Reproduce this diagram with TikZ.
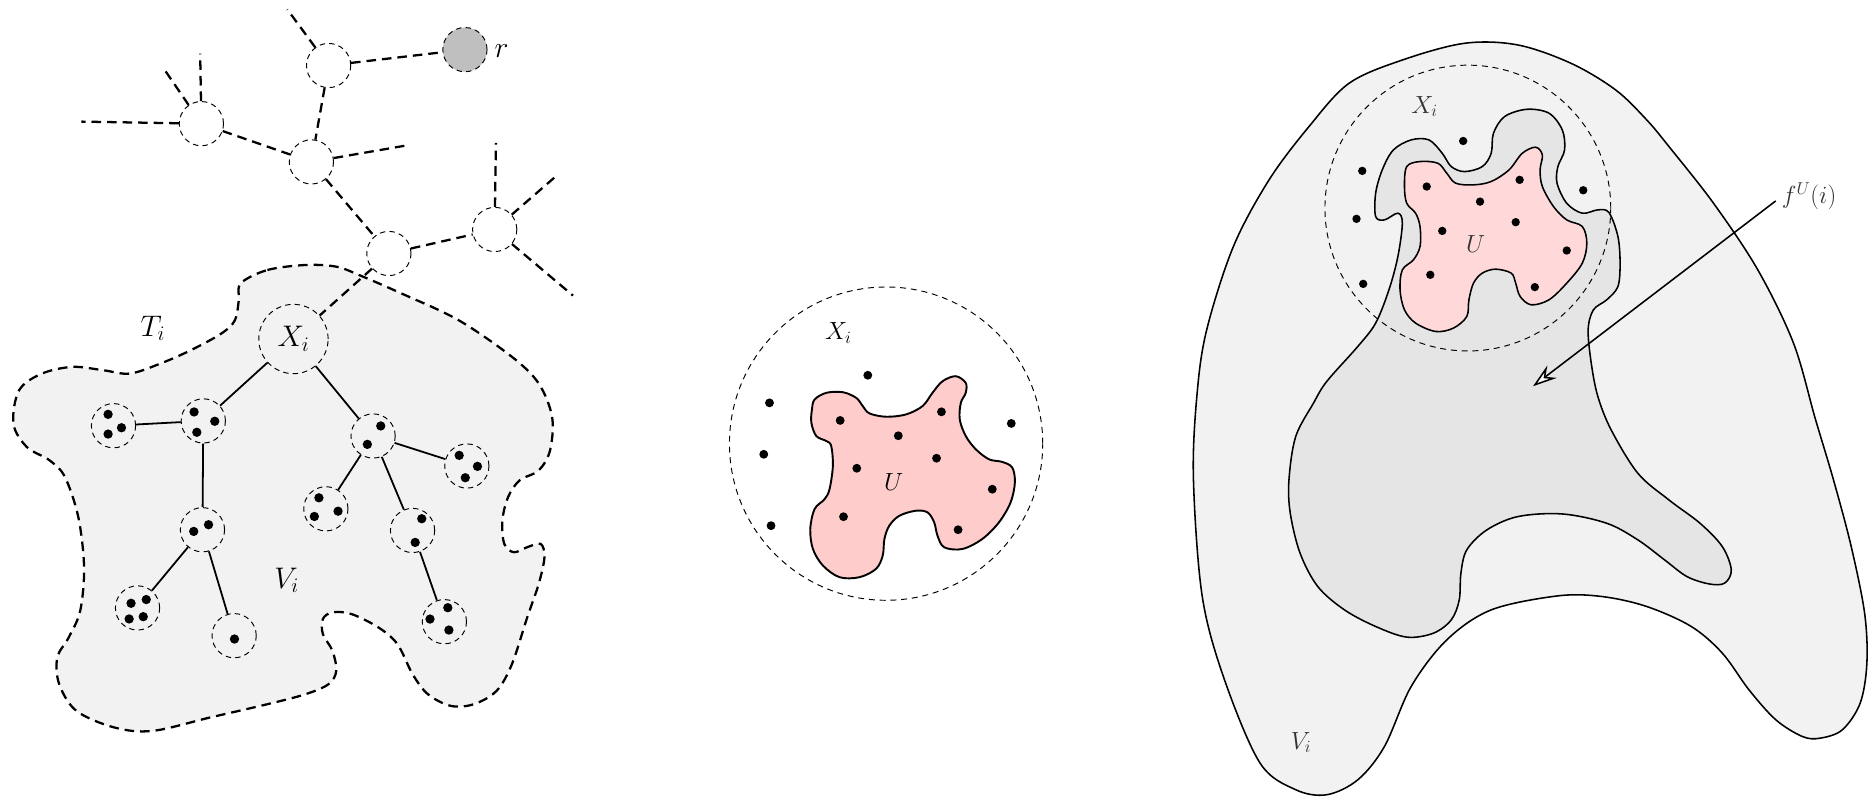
\documentclass[tikz,border=0pt]{standalone}
\usetikzlibrary{arrows.meta}
\begin{document}
\begin{tikzpicture}[x=1pt,y=-1pt,
  tn/.style={circle, draw, line width=0.8pt, dash pattern=on 4.5pt off 3.5pt, minimum size=37pt, inner sep=0pt},
  tedge/.style={line width=1.9pt, dash pattern=on 8pt off 5pt},
  sedge/.style={line width=1.5pt},
  blobline/.style={line width=1.9pt, dash pattern=on 8pt off 5pt, fill=gray!10},
  thinc/.style={line width=0.8pt, dash pattern=on 5pt off 4pt},
  outl/.style={line width=1.3pt},
  biglbl/.style={font=\fontsize{23}{27}\selectfont, inner sep=0pt},
  midlbl/.style={font=\fontsize{20}{24}\selectfont, inner sep=0pt},
  rlbl/.style={font=\fontsize{20.74}{24}\selectfont, inner sep=0pt, text=black!80},
]
\useasboundingbox (0,0) rectangle (1568,666);

% ---------------- left: blob T_i ----------------
\draw[blobline] plot[smooth cycle, tension=0.55] coordinates {
(201.3,236.9) (223.6,225.8) (255.6,221.6) (281.2,223) (300.3,230) (335.5,245.3)
(383.4,267.7) (428.1,298.4) (450.5,320.7) (461.7,348.7) (460,376.6) (450.5,393.4)
(434.5,401.7) (424.9,415.7) (420.1,435.3) (421.7,454.8) (429.7,461.8) (440.9,457.6)
(452.1,454.8) (455.3,466) (450.5,488.3) (440.9,516.3) (428.1,555.4) (415.3,577.7)
(396.2,588.9) (377,590.3) (357.8,580.5) (345,563.7) (332.3,538.6) (316.3,524.6)
(293.9,513.5) (278,512.1) (270,517.7) (270,530.2) (278,544.2) (281.2,561)
(274.8,572.1) (255.6,580.5) (223.6,588.9) (175.7,600) (127.8,611.2) (95.8,608.4)
(63.9,594.5) (49.5,572.1) (47.9,549.8) (57.5,533) (67.1,510.7) (70.3,474.4)
(65.5,432.5) (54.3,398.9) (41.5,385) (22.4,373.8) (11.2,354.3) (16,326.3)
(35.1,312.4) (60.7,306.8) (86.3,309.6) (108.6,312.4) (134.2,304) (159.7,292.8)
(185.3,278.8) (196.5,267.7) (199.7,250.9)};

% upper tree nodes
\node[tn] (A) at (274.8,54.8) {};
\node[tn, fill=gray!50] (R) at (388.8,41.5) {};
\node[tn] (B) at (168.4,103.4) {};
\node[tn] (C) at (260.4,135.4) {};
\node[tn] (D) at (325.2,212) {};
\node[tn] (E) at (413.7,191.9) {};
\node[tn, minimum size=58pt, biglbl] (X) at (245.4,283.5) {$X_i$};
\node[biglbl, font=\fontsize{24}{28}\selectfont] (rl) at (419.5,43) {$r$};

\coordinate (Aup) at (240.3,7.9);
\coordinate (Bl) at (68,101.7);
\coordinate (Bu) at (167.4,44.9);
\coordinate (Bul) at (136.7,57);
\coordinate (Cr) at (341.9,121.3);
\coordinate (Eu) at (414.7,119.4);
\coordinate (Eur) at (466.5,146);
\coordinate (Edr) at (479.2,247.2);

\draw[tedge] (A) -- (R);
\draw[tedge] (A) -- (Aup);
\draw[tedge] (A) -- (C);
\draw[tedge] (B) -- (C);
\draw[tedge] (B) -- (Bl);
\draw[tedge] (B) -- (Bu);
\draw[tedge] (B) -- (Bul);
\draw[tedge] (C) -- (Cr);
\draw[tedge] (C) -- (D);
\draw[tedge] (D) -- (E);
\draw[tedge] (E) -- (Eu);
\draw[tedge] (E) -- (Eur);
\draw[tedge] (E) -- (Edr);
\draw[tedge] (D) -- (X);

% lower tree nodes
\node[tn] (n1) at (94.9,356) {};
\node[tn] (n2) at (170,352) {};
\node[tn] (n3) at (312,364.6) {};
\node[tn] (n4) at (390.4,389.7) {};
\node[tn] (n5) at (272.5,425.5) {};
\node[tn] (n6) at (169.3,443) {};
\node[tn] (n7) at (345,443.6) {};
\node[tn] (n8) at (115,508.4) {};
\node[tn] (n9) at (195.8,531.6) {};
\node[tn] (n10) at (371.6,519.9) {};

\draw[sedge] (X) -- (n2);
\draw[sedge] (X) -- (n3);
\draw[sedge] (n2) -- (n1);
\draw[sedge] (n2) -- (n6);
\draw[sedge] (n3) -- (n4);
\draw[sedge] (n3) -- (n5);
\draw[sedge] (n3) -- (n7);
\draw[sedge] (n6) -- (n8);
\draw[sedge] (n6) -- (n9);
\draw[sedge] (n7) -- (n10);

\def\dr{3.9pt}
\fill (n1) ++(-4.5,-9.5) circle[radius=\dr];
\fill (n1) ++(6.7,1.7) circle[radius=\dr];
\fill (n1) ++(-4.5,7) circle[radius=\dr];
\fill (n2) ++(-7.7,-7.5) circle[radius=\dr];
\fill (n2) ++(9.6,0.3) circle[radius=\dr];
\fill (n2) ++(-5.4,9.5) circle[radius=\dr];
\fill (n3) ++(6.4,-8.4) circle[radius=\dr];
\fill (n3) ++(-4.8,7) circle[radius=\dr];
\fill (n4) ++(-6.4,-8.9) circle[radius=\dr];
\fill (n4) ++(8.9,0.3) circle[radius=\dr];
\fill (n4) ++(-1.3,9.8) circle[radius=\dr];
\fill (n5) ++(-5.8,-9.2) circle[radius=\dr];
\fill (n5) ++(-9.6,6.4) circle[radius=\dr];
\fill (n5) ++(10.2,2) circle[radius=\dr];
\fill (n6) ++(5.1,-4.2) circle[radius=\dr];
\fill (n6) ++(-7.3,1.4) circle[radius=\dr];
\fill (n7) ++(7.7,-9.8) circle[radius=\dr];
\fill (n7) ++(2.2,10) circle[radius=\dr];
\fill (n8) ++(-5.4,-3.9) circle[radius=\dr];
\fill (n8) ++(7.3,-7) circle[radius=\dr];
\fill (n8) ++(-7,9.2) circle[radius=\dr];
\fill (n8) ++(4.8,7.3) circle[radius=\dr];
\fill (n9) ++(0.3,2.8) circle[radius=\dr];
\fill (n10) ++(2.9,-11.7) circle[radius=\dr];
\fill (n10) ++(-12,-2.2) circle[radius=\dr];
\fill (n10) ++(3.8,7) circle[radius=\dr];

\node[biglbl] (Tl) at (127.8,274.6) {$T_i$};
\node[biglbl] (Vl) at (239.6,485.5) {$V_i$};

% ---------------- middle ----------------
\draw[thinc] (741,371) circle[radius=131pt];
\draw[line width=1.6pt, fill=red!20] plot[smooth cycle, tension=0.55] coordinates {
(681.2,334.1) (691,328.5) (704.9,328) (716,332.7) (721.5,339.6) (727.1,345.7)
(741,348.5) (757.6,346.6) (771.5,339.6) (779.8,328.5) (788.2,318.8) (799.3,314.6)
(807.6,320.2) (807.6,328.5) (803.5,336.9) (802.6,350.7) (807.6,364.6) (816,375.7)
(827.1,384.1) (838.2,386.3) (846.5,391) (848.7,403.5) (845.1,420.2) (835.4,436.8)
(821.5,450.7) (804.8,459.1) (789.6,457.7) (784,448) (781.2,436.8) (775.7,428.5)
(765.9,427.1) (752.1,431.3) (743.7,439.6) (739.6,450.7) (738.2,464.6) (732.6,475.7)
(718.7,482.7) (702.1,482.7) (688.2,473) (679.8,459.1) (677.6,442.4) (681.2,425.7)
(689.6,417.4) (693.7,409.1) (696.5,389.6) (695.1,372.9) (691,368.8) (682.6,364.6)
(678.5,353.5) (679,342.4)};
\def\dm{3.7pt}
\foreach \p in {(725.7,313.8),(643.5,336.9),(638.7,379.9),(644.8,439.6),(845.7,354.1),
  (702.6,351.6),(751.2,364.4),(787.3,344.4),(716.5,391.6),(783.2,383.2),(829.8,409.1),
  (705.4,432.1),(801.2,443)}
  \fill \p circle[radius=\dm];
\node[midlbl] (Xm) at (701,278.5) {$X_i$};
\node[midlbl] (Um) at (747.3,403) {$U$};

% ---------------- right ----------------
\draw[outl, fill=gray!10] plot[smooth cycle, tension=0.55] coordinates {
(1109.5,664.6) (1083.5,660.4) (1053.7,638.1) (1024,568.5) (1005.4,498.9) (998,400)
(1001,330) (1009.1,275.8) (1031.4,206.2) (1061.2,150.5) (1094.6,105.9) (1128.1,69.7)
(1172.7,50.2) (1224.7,36.2) (1269.3,37.6) (1313.9,53) (1351.1,75.2) (1377.1,100.3)
(1395.7,122.6) (1432.9,169.9) (1470,225.7) (1499.8,286.9) (1518,350) (1533.3,401.4)
(1548.1,457.1) (1559.3,512.8) (1561.2,554.6) (1555.6,588) (1540.7,610.3) (1522.1,617.3)
(1507.2,615.9) (1485,601.9) (1462.6,576.9) (1440.3,546.2) (1414.3,523.9) (1377.1,507.2)
(1340,498.9) (1302.8,498.3) (1247.1,510) (1209.9,535.1) (1180.1,574.1) (1157.8,624.2)
(1135.5,652.1)};
\draw[outl, fill=gray!20] plot[smooth cycle, tension=0.55] coordinates {
(1150.4,161.6) (1155.9,142.1) (1165.2,125.4) (1180.1,117) (1195,117) (1206.1,128.2)
(1213.6,139.3) (1224.7,143.5) (1239.6,139.3) (1247,128.2) (1248.9,111.5) (1258.2,97.5)
(1276.8,91.4) (1295.4,94.7) (1306.5,108.7) (1308.4,125.4) (1302.8,139.3) (1302.1,153.2)
(1310.2,170) (1323.2,178.3) (1336.2,175.5) (1345.5,177.7) (1353,197.8) (1354.8,220.1)
(1353,239.6) (1343.7,250.7) (1332.5,259.1) (1328.1,275.8) (1330.7,303.7) (1336.2,331.5)
(1347.4,359.6) (1369.7,395.8) (1395.7,418.1) (1421.7,437.6) (1440.3,457.1) (1447.8,476.6)
(1442.2,487.7) (1429.2,488.3) (1410.6,482.1) (1392,468.2) (1369.7,451.5) (1343.7,437.6)
(1306.5,429.8) (1269.3,432) (1243.3,443.2) (1226.6,459.9) (1221.7,479.4) (1220.3,501.7)
(1213.6,518.4) (1198.7,529.5) (1176.4,532.8) (1150.4,523.9) (1124.3,510) (1102,490.5)
(1087.2,462.6) (1079,429.2) (1077.9,401.4) (1083.5,365.2) (1098.3,337.3) (1109.5,319)
(1135.5,289.7) (1150.4,270.2) (1161.5,242.4) (1169,214.5) (1172.7,186.7) (1169,178.3)
(1157.8,183.9) (1150.4,181.1)};
\draw[line width=1.3pt, fill=red!15] plot[smooth cycle, tension=0.55] coordinates {
(1176.4,139.3) (1187.5,135.1) (1202.4,136.5) (1209.9,144.9) (1217.3,153.2) (1232.2,154.6)
(1247,151.8) (1261.9,142.1) (1273,128.2) (1284.2,123.1) (1289.8,129.6) (1287.9,142.1)
(1289.8,156) (1299.1,172.7) (1310.2,183.9) (1323.2,189.4) (1327,203.4) (1323.2,220.1)
(1310.2,236.8) (1295.4,250.7) (1280.5,254.9) (1271.2,247.9) (1267.5,236.8) (1263.8,228.4)
(1250.7,225.1) (1239.6,228.4) (1232.2,236.8) (1228.4,250.7) (1226.6,264.7) (1215.4,274.4)
(1200.6,277.2) (1183.8,270.2) (1174.5,259.1) (1170.8,242.4) (1172.7,225.7) (1182,217.3)
(1187.5,206.2) (1187.5,189.4) (1183.8,178.3) (1176.4,170) (1174.5,156)};
\draw[thinc] (1227.5,174) circle[radius=119.5pt];
\def\dq{3.5pt}
\foreach \p in {(1223.6,117.9),(1139.2,142.9),(1134.4,183),(1140,237.4),(1324,159.1),
  (1193.1,156),(1237.7,168.6),(1270.8,150.4),(1206.1,193.1),(1267.5,185.8),(1310.2,209.5),
  (1196.1,229.8),(1283.5,240.1)}
  \fill \p circle[radius=\dq];
\node[rlbl] (Xr) at (1191.3,89) {$X_i$};
\node[rlbl] (Ur) at (1234,204) {$U$};
\node[rlbl] (Vr) at (1088,621) {$V_i$};
\node[rlbl, anchor=west] (fl) at (1490,164) {$f^U(i)$};
\coordinate (tip) at (1282,323);
\draw[line width=1.3pt, -{Stealth[length=20pt, width=13pt, inset=7pt, fill=white]}] (fl.west) ++(-5,4) -- (tip);
\end{tikzpicture}
\end{document}
